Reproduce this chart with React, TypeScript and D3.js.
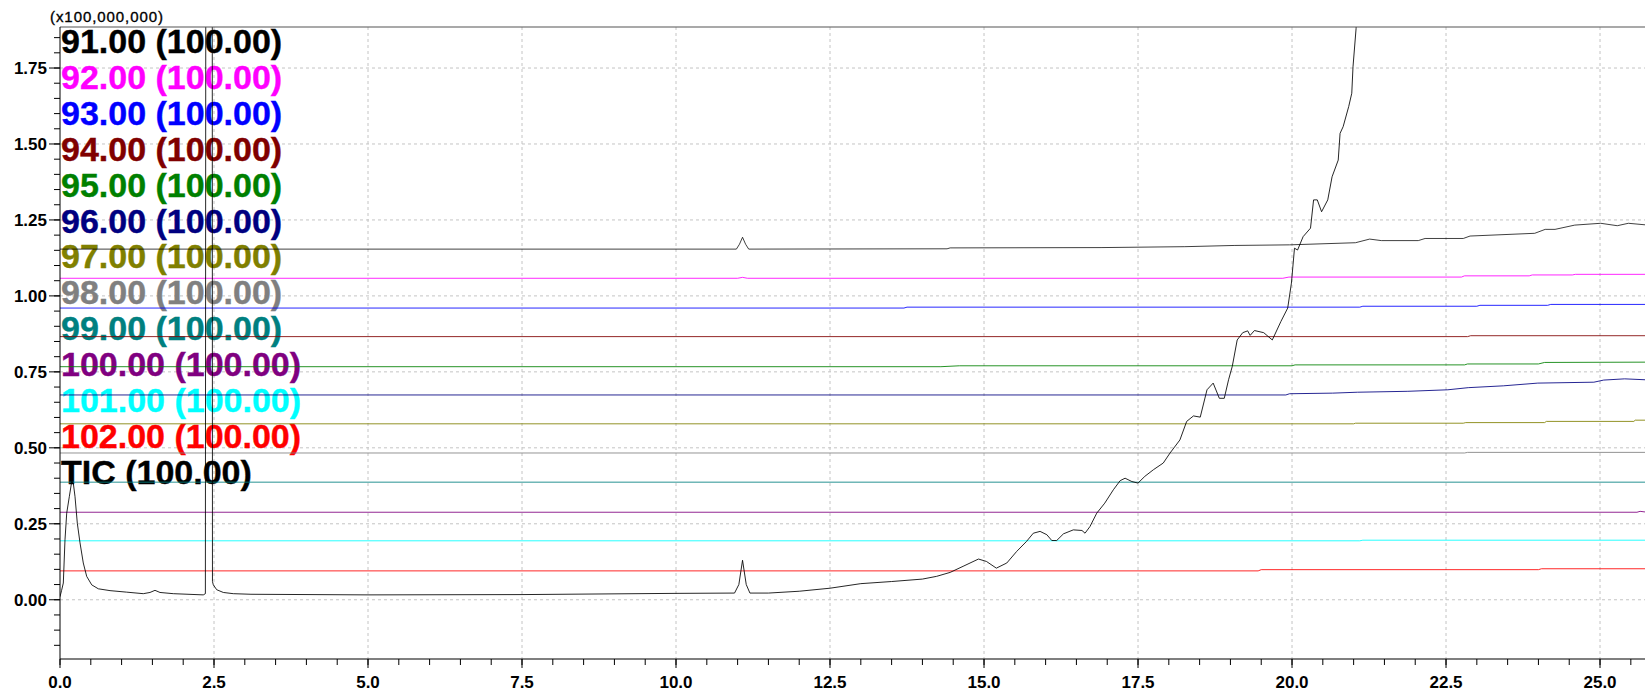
import React from "react";
import * as d3 from "d3";

// ---- data (time in min, intensity in x100,000,000) ----
const mz91: [number, number][] = [[0,1.154],[10.98,1.154],[11.03,1.17],[11.08,1.193],[11.13,1.17],[11.18,1.154],[14.4,1.155],[14.45,1.158],[16.9,1.159],[18.26,1.162],[19.06,1.166],[19.96,1.168],[21.03,1.175],[21.26,1.187],[21.45,1.182],[22.05,1.182],[22.16,1.189],[22.78,1.189],[22.89,1.197],[23.94,1.206],[24.11,1.219],[24.27,1.219],[24.59,1.233],[25.01,1.239],[25.28,1.231],[25.46,1.239],[25.73,1.234]];
const mz92: [number, number][] = [[0,1.058],[11.0,1.058],[11.08,1.061],[11.16,1.058],[19.85,1.058],[19.95,1.062],[22.75,1.062],[22.8,1.066],[23.85,1.066],[23.9,1.069],[24.55,1.069],[24.6,1.071],[25.73,1.071]];
const mz93: [number, number][] = [[0,0.96],[13.7,0.96],[13.75,0.963],[21.1,0.963],[21.15,0.966],[23.0,0.966],[23.05,0.969],[24.15,0.969],[24.2,0.972],[25.73,0.972]];
const mz94: [number, number][] = [[0,0.866],[22.85,0.866],[22.9,0.869],[25.73,0.869]];
const mz95: [number, number][] = [[0,0.767],[14.3,0.767],[14.6,0.77],[20.0,0.77],[20.05,0.773],[22.8,0.773],[22.85,0.776],[24.0,0.776],[24.1,0.781],[25.73,0.782]];
const mz96: [number, number][] = [[0,0.674],[19.9,0.674],[19.96,0.678],[20.66,0.68],[21.06,0.683],[21.88,0.686],[22.53,0.691],[22.86,0.698],[23.43,0.704],[23.99,0.713],[24.9,0.716],[25.06,0.723],[25.4,0.727],[25.73,0.724]];
const mz97: [number, number][] = [[0,0.579],[21.0,0.579],[21.03,0.581],[22.78,0.581],[22.82,0.583],[24.1,0.583],[24.13,0.587],[25.55,0.587],[25.57,0.591],[25.73,0.591]];
const mz98: [number, number][] = [[0,0.483],[22.8,0.483],[22.85,0.485],[25.73,0.485]];
const mz99: [number, number][] = [[0,0.387],[25.73,0.387]];
const mz100: [number, number][] = [[0,0.288],[25.6,0.288],[25.65,0.291],[25.73,0.289]];
const mz101: [number, number][] = [[0,0.194],[21.1,0.194],[21.15,0.196],[25.73,0.196]];
const mz102: [number, number][] = [[0,0.095],[19.45,0.095],[19.5,0.099],[24.0,0.099],[24.05,0.102],[25.73,0.102]];
const tic: [number, number][] = [[0,0.01],[0.025,0.03],[0.054,0.055],[0.081,0.197],[0.109,0.285],[0.151,0.339],[0.19,0.389],[0.216,0.384],[0.244,0.339],[0.281,0.252],[0.325,0.187],[0.378,0.121],[0.433,0.077],[0.515,0.049],[0.622,0.036],[0.812,0.03],[1.083,0.025],[1.352,0.02],[1.461,0.024],[1.542,0.031],[1.623,0.024],[1.839,0.02],[2.326,0.016],[2.36,0.02],[2.37,3.0],[2.47,3.0],[2.475,0.06],[2.489,0.049],[2.544,0.033],[2.651,0.024],[2.813,0.02],[3.1,0.018],[5.0,0.016],[7.5,0.017],[10.0,0.021],[10.95,0.022],[11.02,0.05],[11.08,0.13],[11.14,0.05],[11.2,0.022],[11.5,0.022],[12.0,0.028],[12.5,0.038],[13.0,0.053],[13.5,0.06],[14.0,0.068],[14.23,0.077],[14.45,0.09],[14.66,0.11],[14.91,0.134],[15.04,0.126],[15.2,0.104],[15.37,0.121],[15.53,0.159],[15.69,0.192],[15.8,0.219],[15.91,0.225],[16.02,0.214],[16.1,0.195],[16.18,0.195],[16.29,0.217],[16.45,0.23],[16.59,0.228],[16.64,0.219],[16.72,0.241],[16.83,0.285],[16.96,0.318],[17.1,0.362],[17.21,0.392],[17.29,0.4],[17.4,0.389],[17.5,0.384],[17.61,0.406],[17.75,0.428],[17.91,0.45],[18.02,0.483],[18.18,0.526],[18.29,0.587],[18.4,0.605],[18.51,0.601],[18.62,0.691],[18.72,0.713],[18.82,0.663],[18.9,0.663],[18.97,0.724],[19.03,0.768],[19.11,0.855],[19.2,0.879],[19.28,0.885],[19.32,0.87],[19.39,0.886],[19.54,0.879],[19.68,0.855],[19.82,0.916],[19.93,0.96],[19.99,1.042],[20.04,1.157],[20.09,1.151],[20.18,1.195],[20.3,1.223],[20.35,1.316],[20.41,1.316],[20.48,1.277],[20.58,1.316],[20.65,1.392],[20.75,1.447],[20.78,1.535],[20.83,1.557],[20.92,1.623],[20.97,1.667],[20.99,1.754],[21.04,1.88],[21.1,2.3],[21.2,3.0]];

const seriesList = [mz91, mz92, mz93, mz94, mz95, mz96, mz97, mz98, mz99, mz100, mz101, mz102, tic];
const legendLabels = ["91.00 (100.00)","92.00 (100.00)","93.00 (100.00)","94.00 (100.00)","95.00 (100.00)","96.00 (100.00)","97.00 (100.00)","98.00 (100.00)","99.00 (100.00)","100.00 (100.00)","101.00 (100.00)","102.00 (100.00)","TIC (100.00)"];
const seriesColors = ["#000000","#ff00ff","#0000ff","#800000","#008000","#000080","#808000","#808080","#008080","#800080","#00ffff","#ff0000","#000000"];
const yTickLabels = [0, 0.25, 0.5, 0.75, 1.0, 1.25, 1.5, 1.75];
const xTickLabels = [0, 2.5, 5, 7.5, 10, 12.5, 15, 17.5, 20, 22.5, 25];
const yMinorTicks = d3.range(-0.15, 1.851, 0.05);
const xMinorTicks = d3.range(0, 25.51, 0.5);

const W = 1645, H = 692;
const L = 60, R = 1645, T = 27, B = 659;

export default function App() {
  const x = d3.scaleLinear().domain([0, 25.73]).range([L, R]);
  const y = d3.scaleLinear().domain([-0.195, 1.885]).range([B, T]);
  const line = d3.line<[number, number]>().x(d => x(d[0])).y(d => y(d[1]));
  const font = "'Liberation Sans', Arial, sans-serif";
  return (
    <svg width={W} height={H} style={{ position: "absolute", left: 0, top: 0, background: "#fff" }} fontFamily={font}>
      <defs>
        <clipPath id="plotclip"><rect x={L} y={T} width={R - L} height={B - T} /></clipPath>
      </defs>
      <rect x={0} y={0} width={W} height={H} fill="#fff" />
      {/* grid */}
      {xTickLabels.filter(t => t > 0).map(t => (
        <line key={"gx" + t} x1={x(t)} x2={x(t)} y1={T} y2={B} stroke="#c4c4c4" strokeDasharray="3,3" strokeWidth={1} />
      ))}
      {yTickLabels.map(v => (
        <line key={"gy" + v} x1={L} x2={R} y1={y(v)} y2={y(v)} stroke="#c4c4c4" strokeDasharray="3,3" strokeWidth={1} />
      ))}
      {/* legend labels */}
      {legendLabels.map((lab, i) => (
        <text key={lab} x={61} y={53 + i * 35.9} fontSize={34} fontWeight="bold" fill={seriesColors[i]} stroke={seriesColors[i]} strokeWidth={0.4}>{lab}</text>
      ))}
      {/* traces */}
      <g clipPath="url(#plotclip)">
        {seriesList.map((s, i) => (
          <path key={"s" + i} d={line(s) || ""} fill="none" stroke={seriesColors[i]} strokeWidth={1} strokeOpacity={i === 0 ? 0.75 : 0.85} />
        ))}
      </g>
      {/* frame */}
      <line x1={L} x2={R} y1={T} y2={T} stroke="#555" strokeWidth={1.2} />
      <line x1={L} x2={L} y1={T} y2={B} stroke="#000" strokeWidth={1} />
      <line x1={L} x2={R} y1={B} y2={B} stroke="#000" strokeWidth={1.2} />
      {/* y ticks */}
      {yMinorTicks.map((v, i) => (
        <line key={"ym" + i} x1={L - 6} x2={L} y1={y(v)} y2={y(v)} stroke="#000" strokeWidth={1} />
      ))}
      {yTickLabels.map(v => (
        <g key={"yt" + v}>
          <line x1={L - 11} x2={L} y1={y(v)} y2={y(v)} stroke="#000" strokeWidth={1} />
          <text x={47} y={y(v) + 6} textAnchor="end" fontSize={17} fontWeight="bold" fill="#000">{v.toFixed(2)}</text>
        </g>
      ))}
      {/* x ticks */}
      {xMinorTicks.map((t, i) => (
        <line key={"xm" + i} x1={x(t)} x2={x(t)} y1={B} y2={B + 6} stroke="#000" strokeWidth={1} />
      ))}
      {xTickLabels.map(t => (
        <g key={"xt" + t}>
          <line x1={x(t)} x2={x(t)} y1={B} y2={B + 9} stroke="#000" strokeWidth={1} />
          <text x={x(t)} y={688} textAnchor="middle" fontSize={17} fontWeight="bold" fill="#000">{t.toFixed(1)}</text>
        </g>
      ))}
      <text x={50} y={22} fontSize={15} fill="#000" stroke="#000" strokeWidth={0.35} textLength={113}>(x100,000,000)</text>
    </svg>
  );
}
